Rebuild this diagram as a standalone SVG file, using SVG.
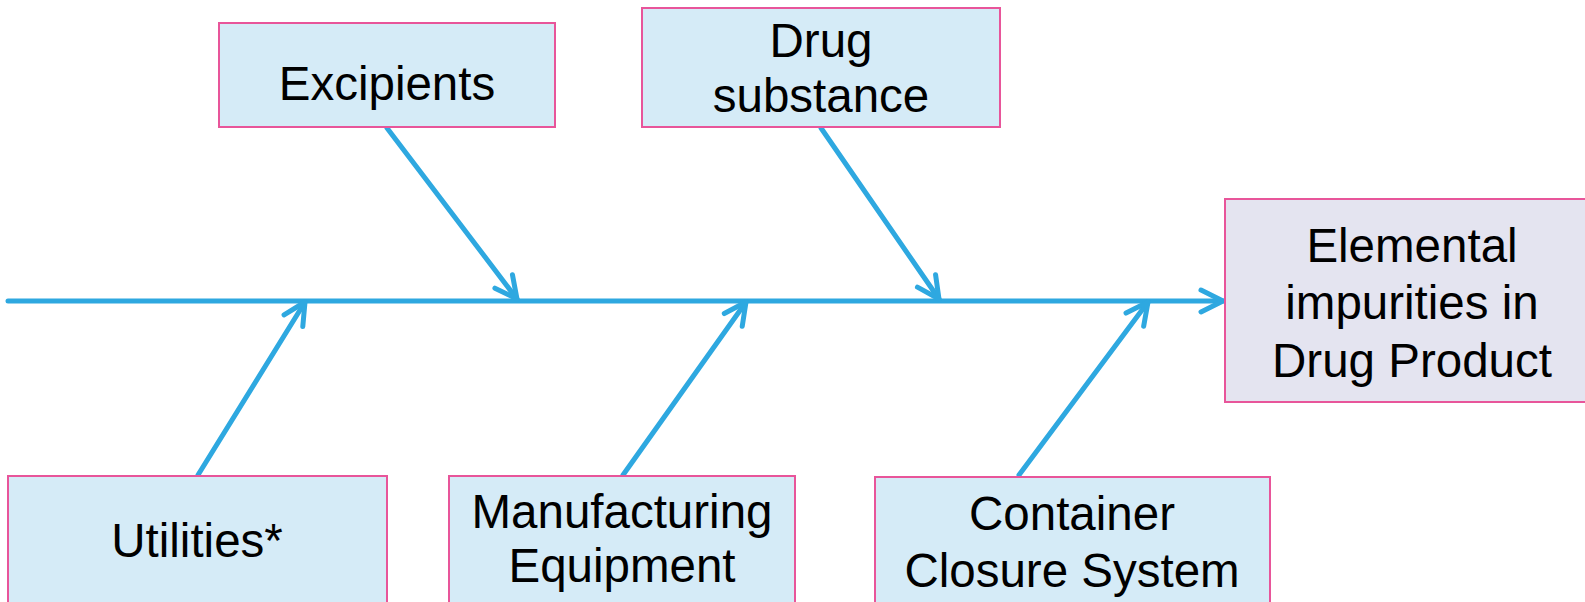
<svg xmlns="http://www.w3.org/2000/svg" width="1585" height="602" viewBox="0 0 1585 602">
<style>
.box{fill:#D5EBF7;stroke:#E8559A;stroke-width:2}
.out{fill:#E4E4F0;stroke:#E8559A;stroke-width:2}
.lbl{font-family:"Liberation Sans",Arial,sans-serif;font-size:47.5px;fill:#000;text-anchor:middle}
.ln{stroke:#2EA8E0;stroke-width:5;fill:none;stroke-linecap:round}
</style>
<defs>
<marker id="ah" markerUnits="userSpaceOnUse" viewBox="-28 -15 32 30" refX="0" refY="0" markerWidth="32" markerHeight="30" orient="auto">
<path d="M-22,-11 L0,0 L-22,11" fill="none" stroke="#2EA8E0" stroke-width="5" stroke-linecap="round" stroke-linejoin="round"/>
</marker>
</defs>
<rect width="1585" height="602" fill="#fff"/>
<g id="connectors">
<line class="ln" x1="8" y1="301" x2="1223" y2="301" marker-end="url(#ah)"/>
<line class="ln" x1="387" y1="128" x2="517" y2="299" marker-end="url(#ah)"/>
<line class="ln" x1="821" y1="128" x2="939" y2="299" marker-end="url(#ah)"/>
<line class="ln" x1="198" y1="475" x2="305" y2="302" marker-end="url(#ah)"/>
<line class="ln" x1="623" y1="475" x2="746" y2="302" marker-end="url(#ah)"/>
<line class="ln" x1="1019" y1="475" x2="1148" y2="302" marker-end="url(#ah)"/>
</g>
<g id="excipients">
<rect class="box" x="219" y="23" width="336" height="104"/>
<text class="lbl" x="387" y="100">Excipients</text>
</g>
<g id="drug-substance">
<rect class="box" x="642" y="8" width="358" height="119"/>
<text class="lbl" x="821" y="57">Drug</text>
<text class="lbl" x="821" y="112">substance</text>
</g>
<g id="elemental">
<rect class="out" x="1225" y="199" width="380" height="203"/>
<text class="lbl" x="1412" y="262">Elemental</text>
<text class="lbl" x="1412" y="319">impurities in</text>
<text class="lbl" x="1412" y="377">Drug Product</text>
</g>
<g id="utilities">
<rect class="box" x="8" y="476" width="379" height="140"/>
<text class="lbl" x="197" y="557">Utilities*</text>
</g>
<g id="manufacturing">
<rect class="box" x="449" y="476" width="346" height="140"/>
<text class="lbl" x="622" y="528">Manufacturing</text>
<text class="lbl" x="622" y="582">Equipment</text>
</g>
<g id="container">
<rect class="box" x="875" y="477" width="395" height="140"/>
<text class="lbl" x="1072" y="530">Container</text>
<text class="lbl" x="1072" y="587">Closure System</text>
</g>
</svg>
